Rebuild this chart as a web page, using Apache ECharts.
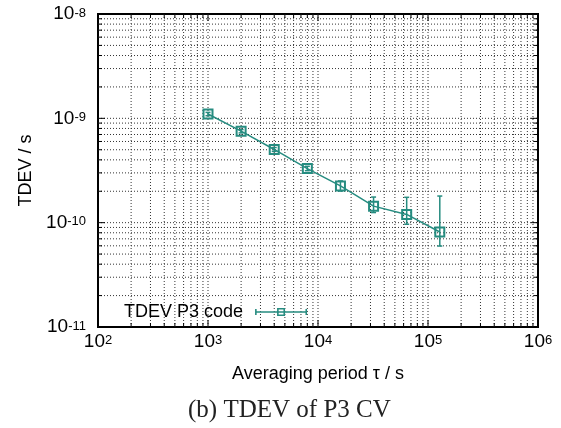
<!DOCTYPE html>
<html>
<head>
<meta charset="utf-8">
<script src="https://cdn.jsdelivr.net/npm/echarts@6/dist/echarts.min.js"></script>
<style>
  html, body { margin: 0; padding: 0; background: #fff; }
  #chart { width: 561px; height: 428px; }
</style>
</head>
<body>
<div id="chart"></div>
<script>
// averaging period tau (s)
const tau = [1000, 2000, 4000, 8000, 16000, 32000, 64000, 128000]
// TDEV (s)
const tdev = [1.10e-9, 7.53e-10, 5.03e-10, 3.30e-10, 2.25e-10, 1.44e-10, 1.20e-10, 8.14e-11]
// error bar limits
const errLow = [1.06e-9, 7.25e-10, 4.82e-10, 3.15e-10, 2.01e-10, 1.25e-10, 9.66e-11, 5.97e-11]
const errHigh = [1.14e-9, 7.80e-10, 5.25e-10, 3.47e-10, 2.51e-10, 1.76e-10, 1.75e-10, 1.80e-10]

// decades used as tick labels, minor steps inside each decade
const xDecades = [1e2, 1e3, 1e4, 1e5, 1e6]
const yDecades = [1e-11, 1e-10, 1e-9, 1e-8]
const minorSteps = [2, 3, 4, 5, 6, 7, 8, 9]

const teal = '#268c80'
const sans = 'Liberation Sans'

const xMin = xDecades[0], xMax = xDecades[xDecades.length - 1]
const yMin = yDecades[0], yMax = yDecades[yDecades.length - 1]

// grid/tick positions: [value, isMajor]
const gridValues = (decades) => {
  const out = []
  decades.forEach((d, i) => {
    out.push([d, 1])
    if (i < decades.length - 1) minorSteps.forEach(m => out.push([d * m, 0]))
  })
  return out
}
const xGrid = gridValues(xDecades)
const yGrid = gridValues(yDecades)

const dotted = { stroke: '#333', lineWidth: 1, lineDash: [1, 2] }
const tickStyle = { stroke: '#000', lineWidth: 1 }

const powLabel = (v) => '{b|10}{s|' + Math.round(Math.log10(v)) + '}'
const labelRich = {
  b: { fontSize: 19, lineHeight: 19, verticalAlign: 'bottom', fontFamily: sans, color: '#000' },
  s: { fontSize: 13, lineHeight: 13, verticalAlign: 'top', padding: [2, 0, 10, 0], fontFamily: sans, color: '#000' }
}

const chart = echarts.init(document.getElementById('chart'))

const option = {
  animation: false,
  backgroundColor: '#fff',
  title: {
    text: '(b) TDEV of P3 CV',
    left: 183,
    top: 393,
    textStyle: { fontFamily: 'Liberation Serif', fontSize: 25, fontWeight: 'normal', color: '#222' }
  },
  grid: {
    left: 98, top: 14, width: 440, height: 313,
    show: true, borderColor: '#000', borderWidth: 2, backgroundColor: '#fff'
  },
  legend: {
    left: 124,
    top: 302,
    padding: 0,
    align: 'right',
    itemWidth: 52,
    itemHeight: 8,
    itemGap: 0,
    selectedMode: false,
    textStyle: { fontFamily: sans, fontSize: 18, color: '#000', lineHeight: 20, padding: [0, 7, 0, 0] },
    data: [{
      name: 'TDEV P3 code',
      icon: 'path://M0 3.2H52V4.8H0Z M0 1H1.6V7H0Z M50.4 1H52V7H50.4Z M22 0H30V8H22Z M23.6 1.6V6.4H28.4V1.6Z',
      itemStyle: { color: teal, borderWidth: 0 }
    }]
  },
  xAxis: {
    type: 'log',
    min: xMin,
    max: xMax,
    name: 'Averaging period τ / s',
    nameLocation: 'middle',
    nameGap: 38,
    nameTextStyle: { fontFamily: sans, fontSize: 18, color: '#000' },
    axisLine: { show: false },
    axisTick: { show: false },
    splitLine: { show: false },
    axisLabel: { margin: 5, formatter: powLabel, rich: labelRich }
  },
  yAxis: {
    type: 'log',
    min: yMin,
    max: yMax,
    name: 'TDEV / s',
    nameLocation: 'middle',
    nameGap: 63,
    nameRotate: 90,
    nameTextStyle: { fontFamily: sans, fontSize: 18, color: '#000' },
    axisLine: { show: false },
    axisTick: { show: false },
    splitLine: { show: false },
    axisLabel: { margin: 12, formatter: powLabel, rich: labelRich }
  },
  series: [
    {
      // vertical grid lines + bottom/top ticks
      type: 'custom',
      silent: true,
      z: 1,
      encode: { x: 0, y: 1 },
      data: xGrid.map(g => [g[0], yMin, g[1]]),
      renderItem: (params, api) => {
        const x = api.value(0)
        const len = api.value(2) === 1 ? 7 : 4
        const b = api.coord([x, yMin])
        const t = api.coord([x, yMax])
        const children = []
        if (x > xMin && x < xMax) {
          children.push({ type: 'line', shape: { x1: b[0], y1: b[1], x2: t[0], y2: t[1] }, style: dotted })
        }
        children.push({ type: 'line', shape: { x1: b[0], y1: b[1], x2: b[0], y2: b[1] - len }, style: tickStyle })
        children.push({ type: 'line', shape: { x1: t[0], y1: t[1], x2: t[0], y2: t[1] + len }, style: tickStyle })
        return { type: 'group', children }
      }
    },
    {
      // horizontal grid lines + left/right ticks
      type: 'custom',
      silent: true,
      z: 1,
      encode: { x: 0, y: 1 },
      data: yGrid.map(g => [xMin, g[0], g[1]]),
      renderItem: (params, api) => {
        const y = api.value(1)
        const len = api.value(2) === 1 ? 7 : 4
        const l = api.coord([xMin, y])
        const r = api.coord([xMax, y])
        const children = []
        if (y > yMin * 1.001 && y < yMax * 0.999) {
          children.push({ type: 'line', shape: { x1: l[0], y1: l[1], x2: r[0], y2: r[1] }, style: dotted })
        }
        children.push({ type: 'line', shape: { x1: l[0], y1: l[1], x2: l[0] + len, y2: l[1] }, style: tickStyle })
        children.push({ type: 'line', shape: { x1: r[0], y1: r[1], x2: r[0] - len, y2: r[1] }, style: tickStyle })
        return { type: 'group', children }
      }
    },
    {
      // error bars
      type: 'custom',
      silent: true,
      z: 3,
      encode: { x: 0, y: [1, 2] },
      data: tau.map((t, i) => [t, errLow[i], errHigh[i]]),
      renderItem: (params, api) => {
        const lo = api.coord([api.value(0), api.value(1)])
        const hi = api.coord([api.value(0), api.value(2)])
        const style = { stroke: teal, lineWidth: 1.5 }
        return {
          type: 'group',
          children: [
            { type: 'line', shape: { x1: lo[0], y1: lo[1], x2: hi[0], y2: hi[1] }, style },
            { type: 'line', shape: { x1: lo[0] - 2.5, y1: lo[1], x2: lo[0] + 2.5, y2: lo[1] }, style },
            { type: 'line', shape: { x1: hi[0] - 2.5, y1: hi[1], x2: hi[0] + 2.5, y2: hi[1] }, style }
          ]
        }
      }
    },
    {
      name: 'TDEV P3 code',
      type: 'line',
      z: 4,
      data: tau.map((t, i) => [t, tdev[i]]),
      symbol: 'rect',
      symbolSize: 9,
      lineStyle: { color: teal, width: 1.5 },
      itemStyle: { color: 'rgba(0,0,0,0)', borderColor: teal, borderWidth: 2 },
      emphasis: { disabled: true }
    }
  ]
}

chart.setOption(option)
</script>
</body>
</html>
